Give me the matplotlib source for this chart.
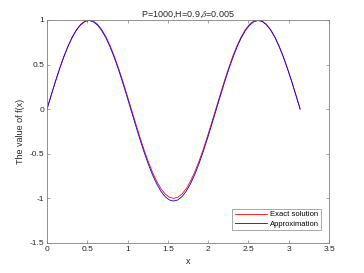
import numpy as np
import matplotlib
matplotlib.use("Agg")
import matplotlib.pyplot as plt

plt.rcParams['font.family'] = ['Liberation Sans', 'DejaVu Sans']
plt.rcParams['axes.unicode_minus'] = False
plt.rcParams['mathtext.fontset'] = 'stix'

# sample points on [0, pi]
x = np.linspace(0, np.pi, 61)

exact = [0.000, 0.156, 0.309, 0.454, 0.588, 0.707, 0.809, 0.891, 0.951, 0.988,
         1.000, 0.988, 0.951, 0.891, 0.809, 0.707, 0.588, 0.454, 0.309, 0.156,
         0.000, -0.156, -0.309, -0.454, -0.588, -0.707, -0.809, -0.891, -0.951, -0.988,
         -1.000, -0.988, -0.951, -0.891, -0.809, -0.707, -0.588, -0.454, -0.309, -0.156,
         0.000, 0.156, 0.309, 0.454, 0.588, 0.707, 0.809, 0.891, 0.951, 0.988,
         1.000, 0.988, 0.951, 0.891, 0.809, 0.707, 0.588, 0.454, 0.309, 0.156, 0.000]

approx = [0.000, 0.156, 0.309, 0.453, 0.587, 0.705, 0.806, 0.887, 0.946, 0.982,
          0.993, 0.979, 0.941, 0.879, 0.796, 0.692, 0.571, 0.436, 0.289, 0.135,
          -0.023, -0.180, -0.334, -0.480, -0.615, -0.735, -0.838, -0.920, -0.981, -1.018,
          -1.030, -1.018, -0.981, -0.920, -0.838, -0.735, -0.615, -0.480, -0.334, -0.180,
          -0.023, 0.135, 0.289, 0.436, 0.571, 0.692, 0.796, 0.879, 0.941, 0.979,
          0.993, 0.982, 0.946, 0.887, 0.806, 0.705, 0.587, 0.453, 0.309, 0.156, 0.000]

xticks = [0, 0.5, 1, 1.5, 2, 2.5, 3, 3.5]
yticks = [-1.5, -1, -0.5, 0, 0.5, 1]

fig = plt.figure(figsize=(3.64, 2.73), dpi=100)
ax = fig.add_axes([0.129, 0.110, 0.775, 0.817])

ax.plot(x, exact, color='#ff0000', linewidth=0.6, label='Exact solution')
ax.plot(x, approx, color='#0000ff', linewidth=0.6, label='Approximation')

ax.set_xlim(0, 3.5)
ax.set_ylim(-1.5, 1)
ax.set_xticks(xticks)
ax.set_xticklabels(['0', '0.5', '1', '1.5', '2', '2.5', '3', '3.5'])
ax.set_yticks(yticks)
ax.set_yticklabels(['-1.5', '-1', '-0.5', '0', '0.5', '1'])

gray = '#262626'
for s in ax.spines.values():
    s.set_color('#808080')
    s.set_linewidth(0.6)
ax.tick_params(direction='in', length=2.5, width=0.5, colors='#808080',
               labelcolor=gray, labelsize=6, top=True, right=True, pad=2)

ax.set_title('P=1000,H=0.9,$\\delta$=0.005', fontsize=6.5, color=gray, pad=2)
ax.set_xlabel('x', fontsize=6.5, color=gray, labelpad=3)
ax.set_ylabel('The value of f(x)', fontsize=6.5, color=gray, labelpad=3)

leg = ax.legend(loc='lower right', fontsize=5.5, frameon=True, fancybox=False,
                handlelength=4.2, handletextpad=0.4, borderpad=0.3,
                labelspacing=0.3, bbox_to_anchor=(0.985, 0.04))
leg.get_frame().set_edgecolor('#808080')
leg.get_frame().set_linewidth(0.6)

fig.savefig('out.png', dpi=100)
